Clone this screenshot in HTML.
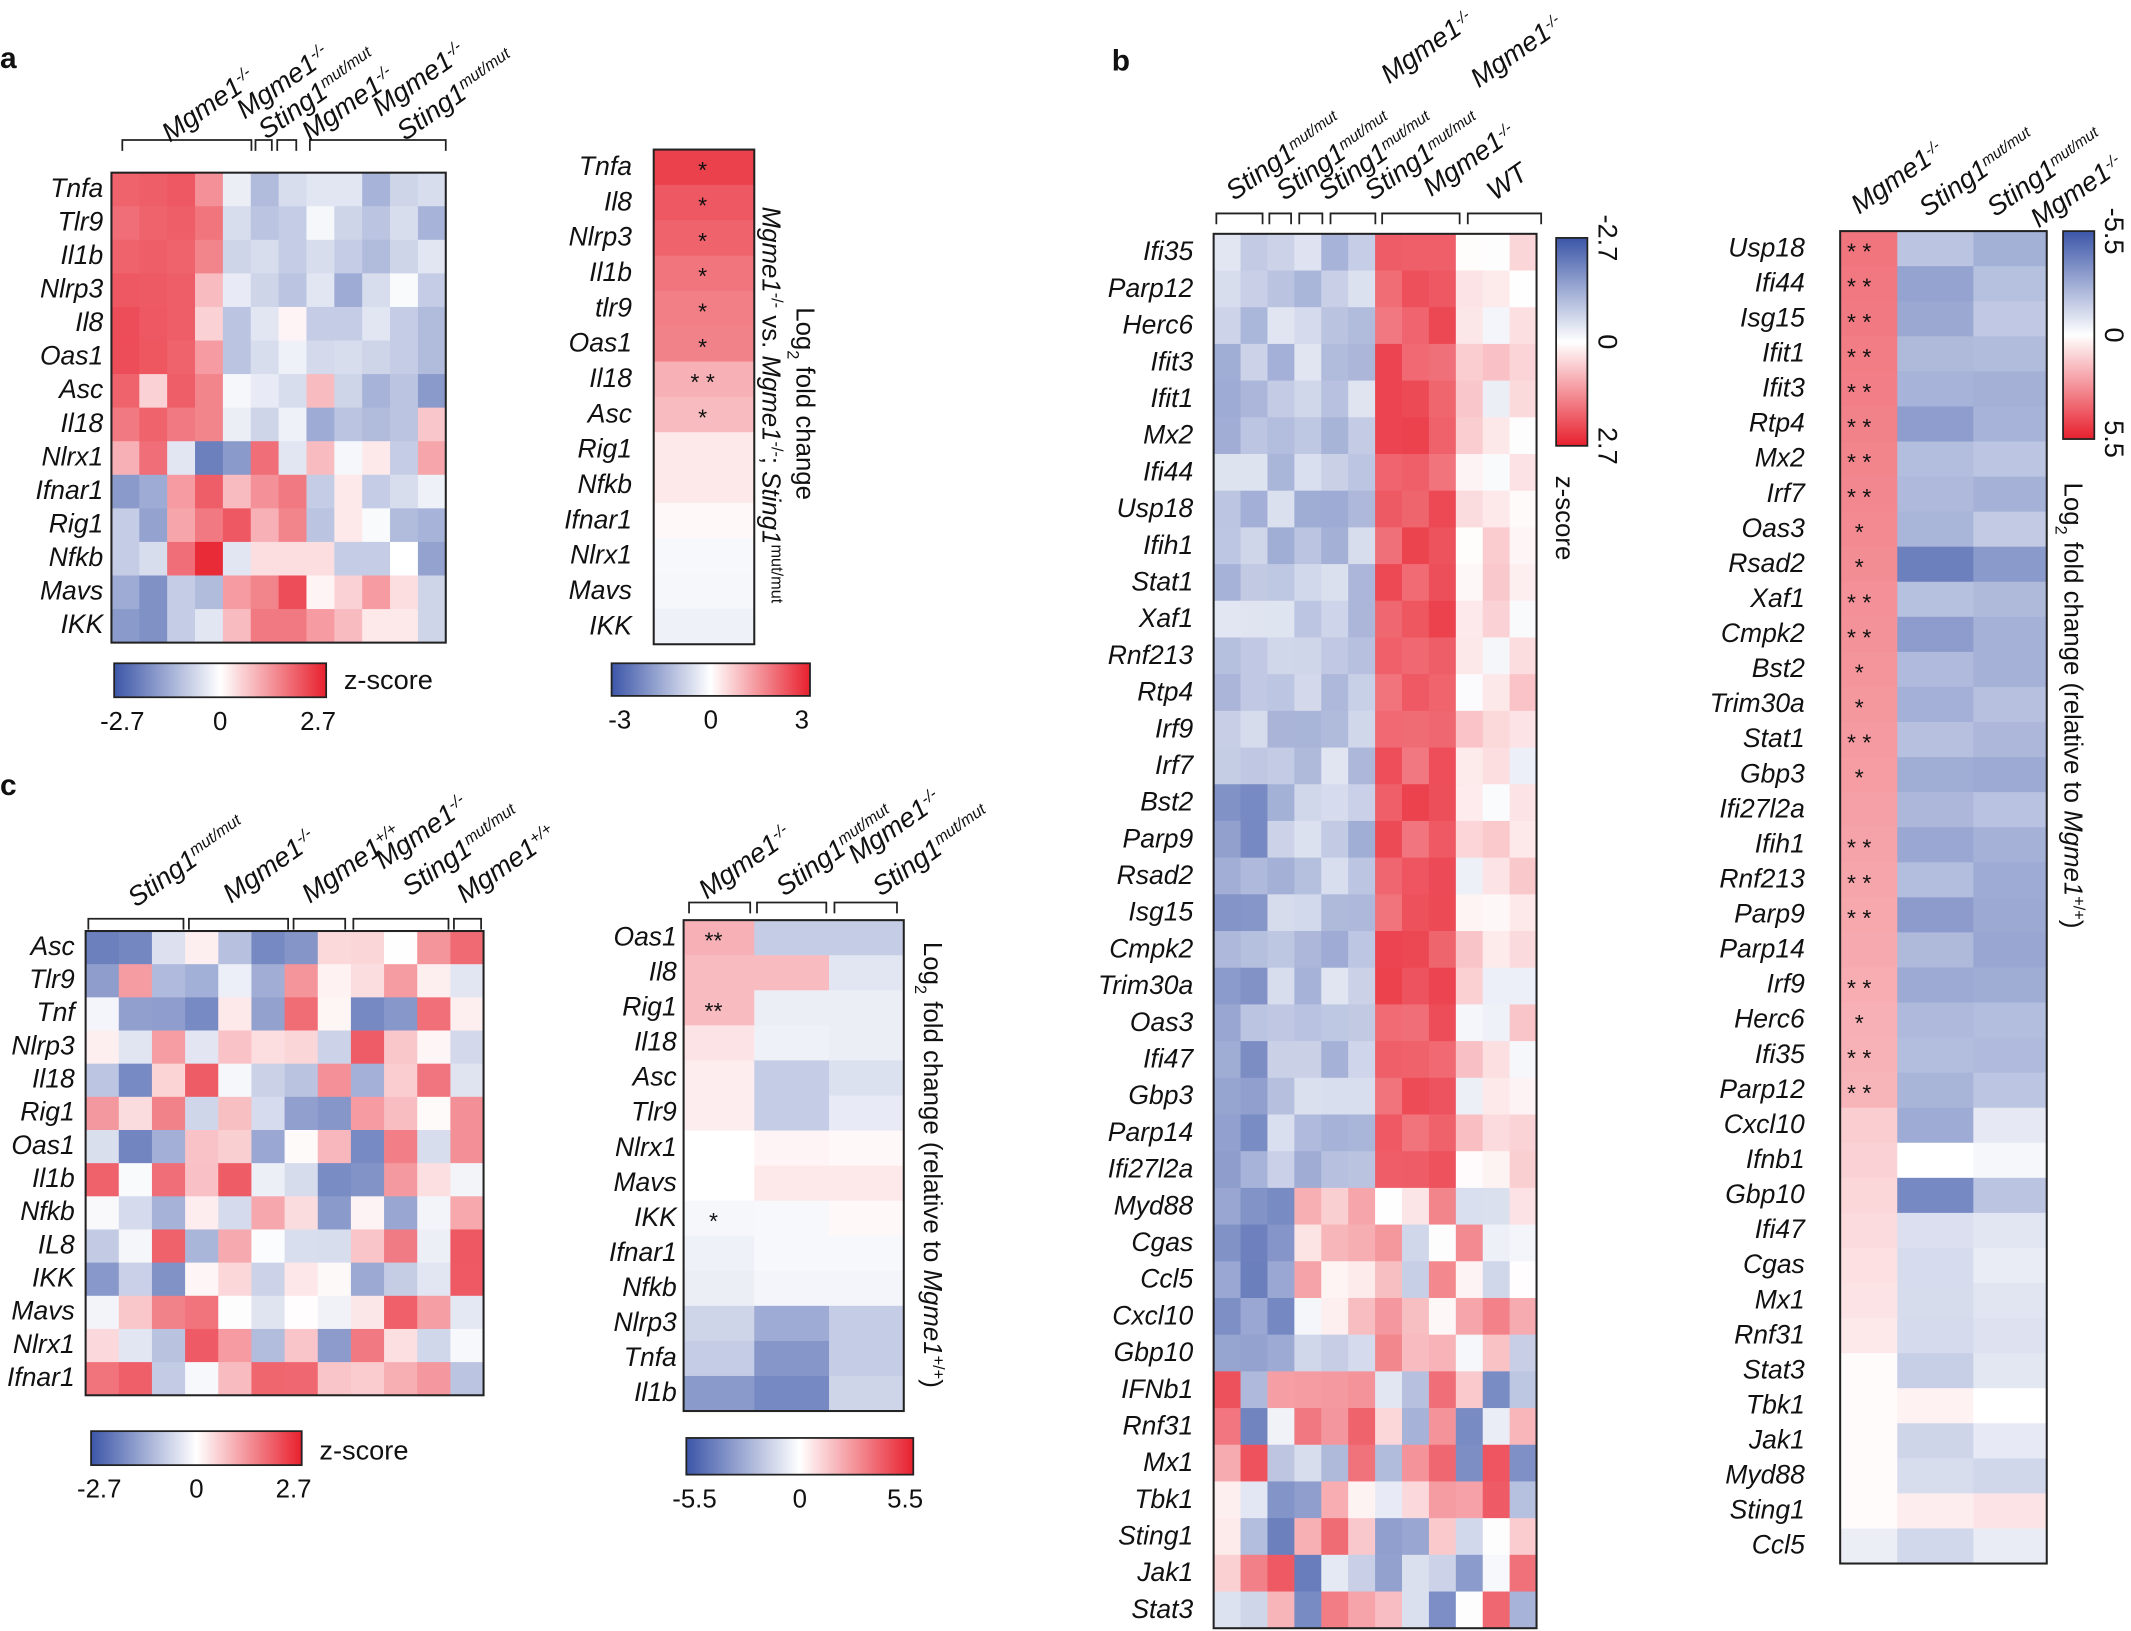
<!DOCTYPE html>
<html><head><meta charset="utf-8">
<style>
html,body{margin:0;padding:0;background:#fff;}
svg{display:block;}
text{font-family:"Liberation Sans",Arial,sans-serif;fill:#111;}
.l{font-style:italic;font-size:19.5px;text-anchor:end;}
.h{font-style:italic;font-size:20px;}
.p{font-weight:bold;font-size:22px;}
.t{font-size:19px;}
</style></head><body>
<svg id="s" width="2131" height="1631" viewBox="0 0 1568 1200" xmlns="http://www.w3.org/2000/svg">
<defs>
<linearGradient id="g" x1="0" x2="1" y1="0" y2="0">
<stop offset="0" stop-color="#3c56a8"/><stop offset="0.5" stop-color="#ffffff"/><stop offset="1" stop-color="#e8202e"/>
</linearGradient>
<linearGradient id="gv" x1="0" x2="0" y1="0" y2="1">
<stop offset="0" stop-color="#3c56a8"/><stop offset="0.5" stop-color="#ffffff"/><stop offset="1" stop-color="#e8202e"/>
</linearGradient>
</defs>
<g id="cells"></g>
<text class="p" x="0" y="50">a</text>
<text class="p" x="818" y="52">b</text>
<text class="p" x="0" y="585">c</text>
</svg>
<script>
var S=document.getElementById('s'),C=document.getElementById('cells'),NS='http://www.w3.org/2000/svg';
function col(z){z=Math.max(-1,Math.min(1,z));var r,g,b;
if(z<0){var t=-z;r=255+(60-255)*t;g=255+(86-255)*t;b=255+(168-255)*t;}
else{var t=z;r=255+(232-255)*t;g=255+(32-255)*t;b=255+(46-255)*t;}
return 'rgb('+Math.round(r)+','+Math.round(g)+','+Math.round(b)+')';}
function el(n,a,p,txt){var e=document.createElementNS(NS,n);for(var k in a)e.setAttribute(k,a[k]);if(txt!==undefined)e.textContent=txt;(p||S).appendChild(e);return e;}
var seed=7;function rnd(){seed=(seed*16807)%2147483647;return seed/2147483647;}
function heat(x,y,ws,h,rows,vals,labels,lx){var n=rows;
for(var i=0;i<n;i++){var xx=x;for(var j=0;j<ws.length;j++){el('rect',{x:xx,y:y+i*h,width:ws[j]+0.5,height:h+0.5,fill:col(vals[i][j])},C);xx+=ws[j];}
if(labels)el('text',{class:'l',x:lx,y:y+i*h+h*0.72},S,labels[i]);}
var tw=ws.reduce(function(a,b){return a+b},0);
el('rect',{x:x,y:y,width:tw,height:h*n,fill:'none',stroke:'#222','stroke-width':1.5});}
function rep(n,w){var a=[];for(var i=0;i<n;i++)a.push(w);return a;}
function star(x,y,s){el('text',{x:x,y:y,'font-size':17,'text-anchor':'middle'},S,s);}
function brk(x1,x2,y){el('path',{d:'M'+x1+' '+(y+8)+'V'+y+'H'+x2+'V'+(y+8),fill:'none',stroke:'#222','stroke-width':1.3});}
function lab(x,y,a,parts,fs){var t=el('text',{class:'h',x:x,y:y,transform:'rotate('+a+' '+x+' '+y+')','font-size':fs||20});
parts.forEach(function(p){if(typeof p==='string'){el('tspan',{},t,p);}else{el('tspan',{'baseline-shift':'super','font-size':(fs||20)*0.6},t,p[0]);}});}
function cbar(x,y,w,h,labs){el('rect',{x:x,y:y,width:w,height:h,fill:'url(#g)',stroke:'#222','stroke-width':1.3});
labs.forEach(function(l,i){el('text',{class:'t',x:x+w*i/2+(i==0?6:i==2?-6:0),y:y+h+24,'text-anchor':'middle','font-size':20},S,l);});}
function vbar(x,y,w,h,labs){el('rect',{x:x,y:y,width:w,height:h,fill:'url(#gv)',stroke:'#222','stroke-width':1.3});
labs.forEach(function(l,i){var yy=y+h*i/2;el('text',{x:x+w+8,y:yy,'text-anchor':'middle','font-size':20,transform:'rotate(90 '+(x+w+8)+' '+yy+')'},S,l);});}

// ===== Panel a left
var aL=['Tnfa','Tlr9','Il1b','Nlrp3','Il8','Oas1','Asc','Il18','Nlrx1','Ifnar1','Rig1','Nfkb','Mavs','IKK'];
var aV=[[.7,.72,.75,.5,-.1,-.4,-.2,-.15,-.15,-.45,-.25,-.2],
[.65,.7,.72,.62,-.2,-.35,-.3,-.05,-.25,-.35,-.2,-.45],
[.7,.72,.7,.55,-.25,-.2,-.3,-.2,-.3,-.4,-.25,-.15],
[.75,.74,.72,.3,-.12,-.25,-.35,-.15,-.5,-.2,-.03,-.3],
[.8,.75,.72,.2,-.35,-.15,.05,-.3,-.3,-.15,-.3,-.4],
[.8,.76,.7,.45,-.35,-.2,-.08,-.22,-.2,-.25,-.3,-.4],
[.7,.2,.72,.55,-.05,-.12,-.2,.3,-.25,-.45,-.35,-.6],
[.6,.7,.6,.55,-.1,-.25,-.08,-.5,-.35,-.4,-.35,.25],
[.35,.65,-.15,-.75,-.6,.65,-.15,.3,-.05,.1,-.3,.4],
[-.6,-.5,.45,.72,.3,.5,.6,-.3,.1,-.3,-.2,-.08],
[-.3,-.55,.4,.6,.75,.35,.55,-.35,.1,-.03,-.4,-.45],
[-.3,-.2,.65,.95,-.15,.15,.15,.15,-.3,-.3,0,-.55],
[-.5,-.65,-.3,-.4,.45,.55,.8,.05,.2,.45,.15,-.25],
[-.6,-.65,-.3,-.15,.3,.6,.6,.45,.3,.1,.1,-.25]];
heat(82,127,rep(12,20.5),24.7,14,aV,aL,76);
brk(90,185,103);brk(188,200,103);brk(204,218,103);brk(228,328,103);
lab(125,105,-35,['Mgme1',['-/-']]);
lab(180,88,-35,['Mgme1',['-/-']]);lab(196,103,-35,['Sting1',['mut/mut']]);
lab(228,104,-35,['Mgme1',['-/-']]);
lab(280,86,-35,['Mgme1',['-/-']]);lab(298,104,-35,['Sting1',['mut/mut']]);
cbar(84,488,156,25,['-2.7','0','2.7']);
el('text',{x:253,y:507,'font-size':20},S,'z-score');

// ===== Panel a right
var arL=['Tnfa','Il8','Nlrp3','Il1b','tlr9','Oas1','Il18','Asc','Rig1','Nfkb','Ifnar1','Nlrx1','Mavs','IKK'];
var arV=[.85,.75,.7,.62,.58,.56,.35,.3,.1,.1,.03,-.04,-.05,-.08];
heat(481,110,[74],26,14,arV.map(function(v){return[v]}),arL,465);
var ast=['*','*','*','*','*','*','* *','*'];ast.forEach(function(s,i){star(517,110+i*26+21,s);});
el('text',{x:0,y:0,'font-size':19,transform:'translate(561,152) rotate(90)'},S,'').innerHTML='<tspan font-style="italic">Mgme1</tspan><tspan font-size="12" baseline-shift="super">-/-</tspan> vs. <tspan font-style="italic">Mgme1</tspan><tspan font-size="12" baseline-shift="super">-/-</tspan>; <tspan font-style="italic">Sting1</tspan><tspan font-size="12" baseline-shift="super">mut/mut</tspan>';
el('text',{x:0,y:0,'font-size':19,transform:'translate(586,226) rotate(90)'},S,'').innerHTML='Log<tspan font-size="12" baseline-shift="sub">2</tspan> fold change';
cbar(450,488,146,24,['-3','0','3']);

// ===== Panel b left
var bL=['Ifi35','Parp12','Herc6','Ifit3','Ifit1','Mx2','Ifi44','Usp18','Ifih1','Stat1','Xaf1','Rnf213','Rtp4','Irf9','Irf7','Bst2','Parp9','Rsad2','Isg15','Cmpk2','Trim30a','Oas3','Ifi47','Gbp3','Parp14','Ifi27l2a','Myd88','Cgas','Ccl5','Cxcl10','Gbp10','IFNb1','Rnf31','Mx1','Tbk1','Sting1','Jak1','Stat3'];
var bV=[];seed=11;
for(var i=0;i<38;i++){var r=[];for(var j=0;j<12;j++){var v;
 if(i<26){ if(j<6) v=-0.15-0.35*rnd()-(i>14&&j<2?0.2:0); else if(j<9) v=0.6+0.25*rnd(); else v=-0.1+0.4*rnd();}
 else if(i<31){ if(j<3) v=-0.5-0.3*rnd(); else v=-0.3+0.9*rnd();}
 else v=-0.8+1.6*rnd();
 r.push(v);}bV.push(r);}
heat(893,172,rep(12,19.8),27,38,bV,bL,878);
brk(895,929,157);brk(934,950,157);brk(956,973,157);brk(979,1012,157);brk(1017,1074,157);brk(1080,1134,157);
lab(908,148,-35,['Sting1',['mut/mut']],19);
lab(945,148,-35,['Sting1',['mut/mut']],19);
lab(976,148,-35,['Sting1',['mut/mut']],19);lab(1022,62,-35,['Mgme1',['-/-']],19);
lab(1010,148,-35,['Sting1',['mut/mut']],19);lab(1088,65,-35,['Mgme1',['-/-']],19);
lab(1053,145,-35,['Mgme1',['-/-']],19);
el('text',{class:'h',x:1100,y:148,transform:'rotate(-35 1100 148)'},S,'WT');
vbar(1145,175,23,153,['-2.7','0','2.7']);
el('text',{x:1145,y:350,'font-size':19,transform:'rotate(90 1145 350)'},S,'z-score');

// ===== Panel b right
var brL=['Usp18','Ifi44','Isg15','Ifit1','Ifit3','Rtp4','Mx2','Irf7','Oas3','Rsad2','Xaf1','Cmpk2','Bst2','Trim30a','Stat1','Gbp3','Ifi27l2a','Ifih1','Rnf213','Parp9','Parp14','Irf9','Herc6','Ifi35','Parp12','Cxcl10','Ifnb1','Gbp10','Ifi47','Cgas','Mx1','Rnf31','Stat3','Tbk1','Jak1','Myd88','Sting1','Ccl5'];
var brS=['* *','* *','* *','* *','* *','* *','* *','* *','*','*','* *','* *','*','*','* *','*','','* *','* *','* *','','* *','*','* *','* *'];
var brV=[];seed=5;
for(var i=0;i<38;i++){var a=i<25?0.62-0.012*i:(0.22-0.02*(i-25));if(i>=32)a=0.02;if(i==37)a=-0.1;
 var b2,c2;if(i<25){b2=-0.35-0.25*rnd();c2=-0.3-0.25*rnd();}else{b2=-0.1-0.2*rnd();c2=-0.05-0.2*rnd();}
 if(i==9){b2=-0.75;c2=-0.6;}if(i==25){b2=-0.5;}if(i==26){b2=0;c2=-0.05}if(i==27){b2=-0.7;c2=-0.35}if(i==36){b2=0.08;c2=0.12}if(i==33){b2=0.06;c2=0}
 brV.push([a,b2,c2]);}
heat(1354,170,[42,56,54],25.8,38,brV,brL,1328);
brS.forEach(function(s,i){if(s)star(1368,170+i*25.8+21,s);});
lab(1368,158,-35,['Mgme1',['-/-']],19);
lab(1418,160,-35,['Sting1',['mut/mut']],19);
lab(1468,160,-35,['Sting1',['mut/mut']],19);lab(1500,168,-35,['Mgme1',['-/-']],19);
vbar(1518,170,23,153,['-5.5','0','5.5']);
el('text',{x:0,y:0,'font-size':19,transform:'translate(1519,355) rotate(90)'},S,'').innerHTML='Log<tspan font-size="12" baseline-shift="sub">2</tspan> fold change   (relative to <tspan font-style="italic">Mgme1</tspan><tspan font-size="12" baseline-shift="super">+/+</tspan>)';

// ===== Panel c left
var cL=['Asc','Tlr9','Tnf','Nlrp3','Il18','Rig1','Oas1','Il1b','Nfkb','IL8','IKK','Mavs','Nlrx1','Ifnar1'];
var cV=[];seed=23;
for(var i=0;i<14;i++){var r=[];for(var j=0;j<12;j++)r.push(-0.75+1.5*rnd());cV.push(r);}
heat(63,685,rep(12,24.4),24.4,14,cV,cL,55);
brk(65,135,676);brk(139,212,676);brk(216,254,676);brk(260,330,676);brk(334,354,676);
lab(100,668,-35,['Sting1',['mut/mut']],20);
lab(170,665,-35,['Mgme1',['-/-']],20);
lab(228,665,-35,['Mgme1',['+/+']],20);
lab(282,640,-35,['Mgme1',['-/-']],20);lab(302,660,-35,['Sting1',['mut/mut']],20);
lab(342,665,-35,['Mgme1',['+/+']],20);
cbar(67,1053,155,25,['-2.7','0','2.7']);
el('text',{x:235,y:1074,'font-size':20},S,'z-score');

// ===== Panel c right
var crL=['Oas1','Il8','Rig1','Il18','Asc','Tlr9','Nlrx1','Mavs','IKK','Ifnar1','Nfkb','Nlrp3','Tnfa','Il1b'];
var crV=[[.35,-.3,-.3],[.3,.3,-.15],[.3,-.1,-.1],[.12,-.08,-.1],[.08,-.3,-.18],[.08,-.3,-.12],[0,.05,.03],[0,.1,.1],[-.05,-.04,.03],[-.08,-.04,-.04],[-.1,-.06,-.06],[-.25,-.5,-.3],[-.3,-.62,-.3],[-.6,-.7,-.25]];
heat(503,677,[52,55,55],25.8,14,crV,crL,498);
star(525,677+21,'**');star(525,677+2*25.8+21,'**');star(525,677+8*25.8+21,'*');
lab(520,662,-35,['Mgme1',['-/-']],20);
lab(577,660,-35,['Sting1',['mut/mut']],20);
lab(630,636,-35,['Mgme1',['-/-']],20);lab(648,660,-35,['Sting1',['mut/mut']],20);
brk(507,552,664);brk(557,608,664);brk(614,660,664);
el('text',{x:0,y:0,'font-size':19,transform:'translate(680,693) rotate(90)'},S,'').innerHTML='Log<tspan font-size="12" baseline-shift="sub">2</tspan> fold change (relative to <tspan font-style="italic">Mgme1</tspan><tspan font-size="12" baseline-shift="super">+/+</tspan>)';
cbar(505,1058,167,27,['-5.5','0','5.5']);
</script>
</body></html>
